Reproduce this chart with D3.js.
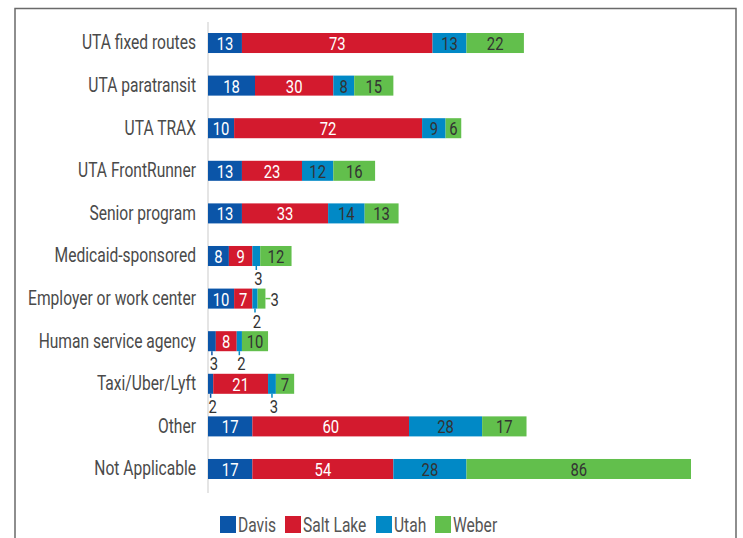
<!DOCTYPE html>
<html>
<head>
<meta charset="utf-8">
<script src="https://cdn.jsdelivr.net/npm/d3@7"></script>
<style>
  body { margin: 0; background: #fff; }
  svg text { font-family: Roboto, "Noto Sans", sans-serif; }
</style>
</head>
<body>
<svg id="chart"></svg>
<script>
// categories and counts per county
var categories = ["UTA fixed routes", "UTA paratransit", "UTA TRAX", "UTA FrontRunner",
  "Senior program", "Medicaid-sponsored", "Employer or work center",
  "Human service agency", "Taxi/Uber/Lyft", "Other", "Not Applicable"];
var counties = ["Davis", "Salt Lake", "Utah", "Weber"];
var davis    = [13, 18, 10, 13, 13, 8, 10, 3, 2, 17, 17];
var saltLake = [73, 30, 72, 23, 33, 9, 7, 8, 21, 60, 54];
var utah     = [13, 8, 9, 12, 14, 3, 2, 2, 3, 28, 28];
var weber    = [22, 15, 6, 16, 13, 12, 3, 10, 7, 17, 86];

var colors = ["#0b55a8", "#d31a2e", "#0189c6", "#62bf4c"];
var textColors = ["#fff", "#fff", "#333", "#333"];

var width = 743, height = 538;
var squeeze = 0.78;   // fake a condensed face

var svg = d3.select("#chart")
    .attr("width", width)
    .attr("height", height);

// narrow the glyphs of a text selection (horizontal scale around its anchor)
function condense(sel) {
    sel.each(function() {
        var t = d3.select(this);
        var tx = +t.attr("x") || 0, ty = +t.attr("y") || 0;
        t.attr("x", 0).attr("y", 0)
         .attr("transform", "translate(" + tx + "," + ty + ") scale(" + squeeze + ",1)");
    });
}

// frame
svg.append("path")
    .attr("d", "M15,545 L15,8.5 L736,8.5 L736,545")
    .attr("fill", "none")
    .attr("stroke", "#6a6a6a")
    .attr("stroke-width", 1.5);

var table = categories.map(function(c, i) {
    return {cat: c, Davis: davis[i], "Salt Lake": saltLake[i], Utah: utah[i], Weber: weber[i]};
});
var series = d3.stack().keys(counties)(table);

var x = d3.scaleLinear()
    .domain([0, 185])
    .range([208, 691]);

var y = d3.scaleBand()
    .domain(categories)
    .range([33, 479])
    .paddingInner(0.53)
    .paddingOuter(0);

// axis line
svg.append("line")
    .attr("x1", 208).attr("x2", 208)
    .attr("y1", 22).attr("y2", 493)
    .attr("stroke", "#dcdcdc")
    .attr("stroke-width", 1.5);

// category labels
var yAxis = svg.append("g")
    .attr("transform", "translate(196,0)")
    .call(d3.axisLeft(y).tickSize(0).tickPadding(0));
yAxis.select(".domain").remove();
yAxis.selectAll("text")
    .attr("font-size", "20px")
    .attr("fill", "#4a4a4a")
    .call(condense);

var groups = svg.selectAll("g.series")
    .data(series)
    .enter().append("g")
    .attr("class", "series");

groups.selectAll("rect")
    .data(function(s) { return s.map(function(d) { return {d: d, key: s.key, idx: s.index}; }); })
    .enter().append("rect")
    .attr("x", function(o) { return x(o.d[0]); })
    .attr("y", function(o) { return y(o.d.data.cat); })
    .attr("width", function(o) { return x(o.d[1]) - x(o.d[0]); })
    .attr("height", y.bandwidth())
    .attr("fill", function(o) { return colors[o.idx]; });

// value labels
groups.each(function(s) {
    var g = d3.select(this);
    s.forEach(function(d) {
        var v = d[1] - d[0];
        var cx = (x(d[0]) + x(d[1])) / 2;
        var top = y(d.data.cat);
        var bottom = top + y.bandwidth();
        var mid = top + y.bandwidth() / 2;
        if (v > 3) {
            g.append("text")
                .attr("x", cx)
                .attr("y", mid)
                .attr("dy", "0.37em")
                .attr("text-anchor", "middle")
                .attr("font-size", "19px")
                .attr("fill", textColors[s.index])
                .text(v);
        } else if (s.index === counties.length - 1) {
            // last segment: label to the right
            g.append("line")
                .attr("x1", x(d[1])).attr("x2", x(d[1]) + 5)
                .attr("y1", mid).attr("y2", mid)
                .attr("stroke", colors[s.index])
                .attr("stroke-width", 1.5);
            g.append("text")
                .attr("x", x(d[1]) + 5)
                .attr("y", mid)
                .attr("dy", "0.37em")
                .attr("font-size", "19px")
                .attr("fill", "#333")
                .text(v);
        } else {
            g.append("line")
                .attr("x1", cx).attr("x2", cx)
                .attr("y1", bottom).attr("y2", bottom + 4)
                .attr("stroke", colors[s.index])
                .attr("stroke-width", 1.5);
            g.append("text")
                .attr("x", cx + 2)
                .attr("y", bottom + 12)
                .attr("dy", "0.37em")
                .attr("text-anchor", "middle")
                .attr("font-size", "19px")
                .attr("fill", "#333")
                .text(v);
        }
    });
});
groups.selectAll("text").call(condense);

// legend
var legendX = [220, 285, 376, 435];
var legend = svg.selectAll("g.legend")
    .data(counties)
    .enter().append("g")
    .attr("class", "legend")
    .attr("transform", function(d, i) { return "translate(" + legendX[i] + ",516)"; });
legend.append("rect")
    .attr("width", 16)
    .attr("height", 17)
    .attr("fill", function(d, i) { return colors[i]; });
legend.append("text")
    .attr("x", 18)
    .attr("y", 16)
    .attr("font-size", "20px")
    .attr("fill", "#555")
    .text(function(d) { return d; })
    .call(condense);
</script>
</body>
</html>
